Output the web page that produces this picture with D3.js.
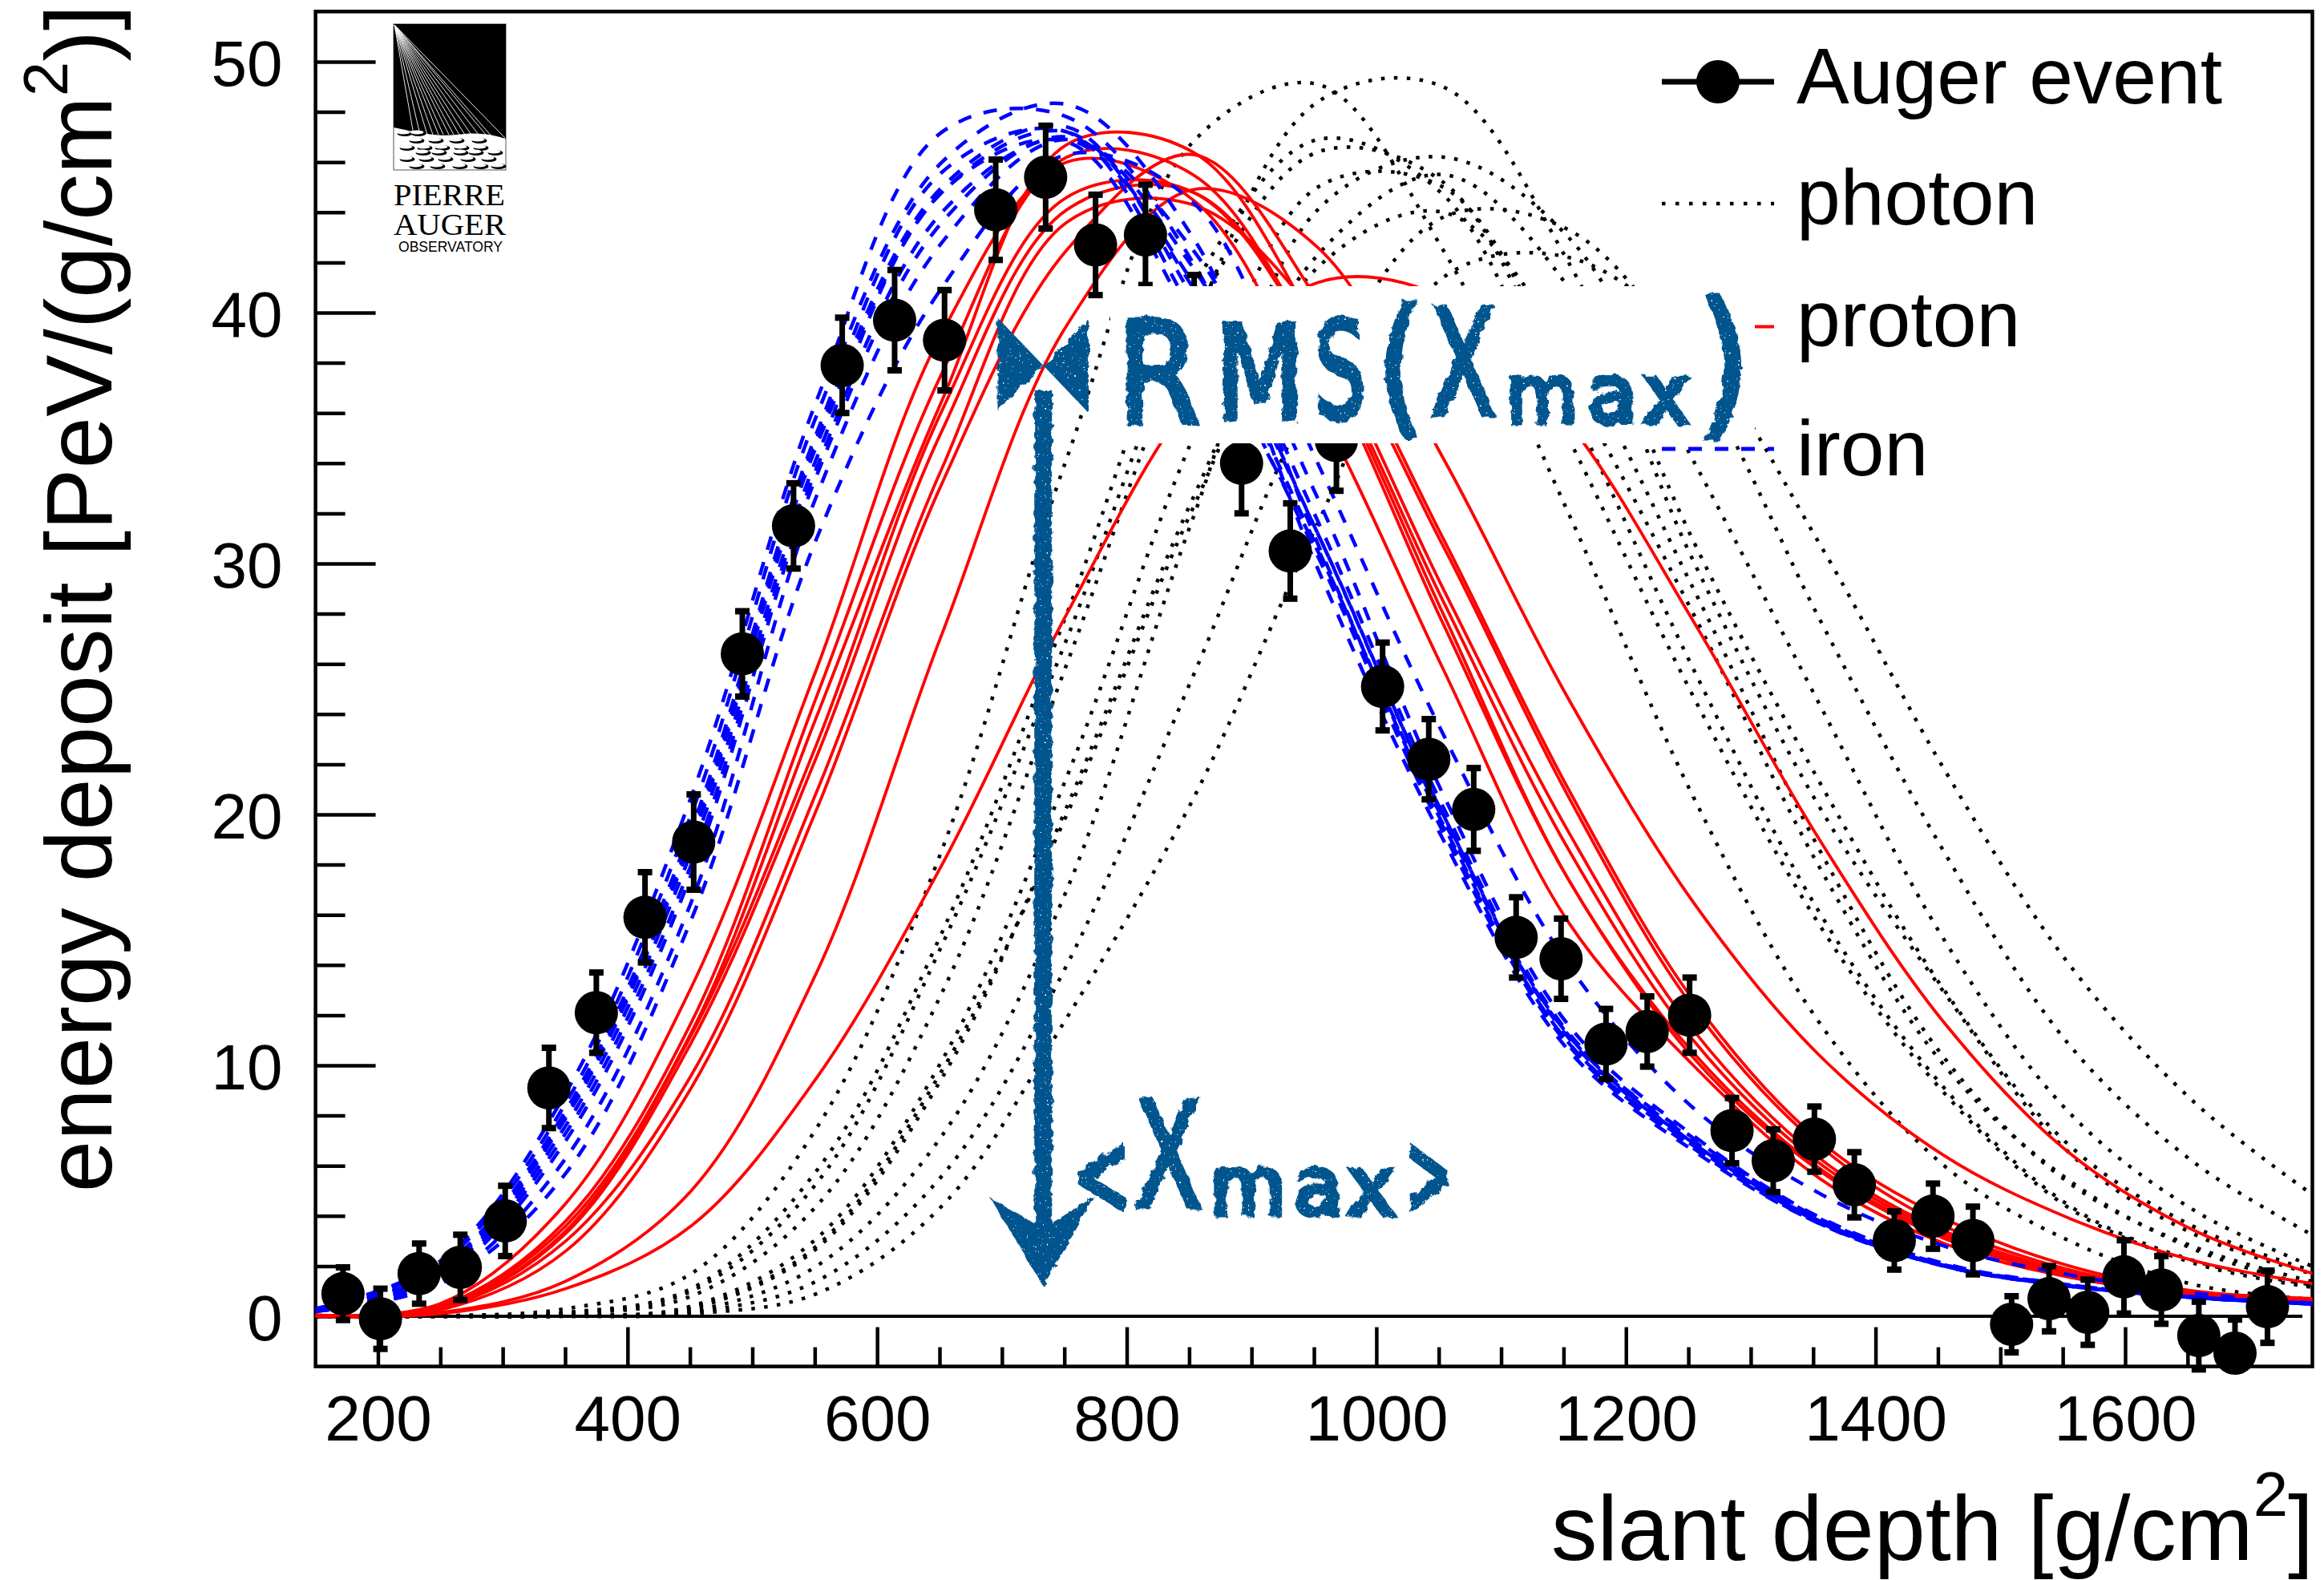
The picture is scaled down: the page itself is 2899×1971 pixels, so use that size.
<!DOCTYPE html>
<html>
<head>
<meta charset="utf-8">
<style>
  body { margin: 0; background: #fff; }
  text { font-family: "Liberation Sans", sans-serif; fill: #000; }
</style>
<script src="https://cdn.jsdelivr.net/npm/d3@7"></script>
</head>
<body>
<script>
const w = 2899
const h = 1971

const slantDepth = [172,202,233,266,302,337,375,414,453,492,533,572,614,654,695,735,775,815,854,892,931,968,1005,1042,1078,1112,1148,1184,1217,1251,1285,1318,1351,1383,1415,1446,1478,1509,1539,1570,1599,1629,1659,1688,1714]
const energyDeposit = [.9,-.1,1.7,1.95,3.8,9.1,12.1,15.9,18.9,26.4,31.5,37.9,39.7,38.9,44.1,45.4,42.7,43.1,39.5,34,30.5,34.9,25.1,22.2,20.2,15.1,14.25,10.85,11.35,12,7.4,6.2,7.06,5.24,3.02,3.99,3.02,-.32,.7,.16,1.57,1.05,-.77,-1.47,.38]
const energyError = [1.05,1.2,1.2,1.3,1.4,1.6,1.6,1.8,1.9,1.7,1.7,1.9,2,2,2,2.05,2,2,2,2,1.9,2,1.75,1.6,1.65,1.6,1.6,1.4,1.4,1.5,1.3,1.25,1.3,1.3,1.16,1.3,1.35,1.12,1.3,1.3,1.46,1.35,1.35,1.34,1.44]

// simulated showers, all read at the same depths
const curveDepth = [150,250,350.5,451,551.5,652,752,853,953,1053.5,1154,1254,1355,1455,1555.5,1656,1757]

const photon = [
  [0,.02,.3,1.7,7.5,18.6,34.2,46.8,49.1,42.5,32,20.7,11.7,6,3,1.25,.65],
  [0,.01,.15,1.1,5.8,15.3,28,41,46.9,44.7,35,24.7,15.6,8.9,4.3,2.1,1.1],
  [0,.01,.12,1,5.3,14.8,27,39.8,46.4,45.2,36.4,25.8,16.1,9.1,4.4,2.2,1.2],
  [0,0,.03,.4,3.1,10.2,21.5,35,45,45,37.3,28,17.9,10,5.4,2.65,1.1],
  [0,0,.03,.35,2.8,9.8,20,32.2,41.8,44,38.5,29,18.6,10.3,5.3,2.75,1.3],
  [0,0,.02,.3,2.7,9.5,20.3,32.6,42.3,45.5,41,30.1,20.3,12.9,6.5,3.25,1.6],
  [0,.01,.1,.8,4.4,12.9,26,39.5,48.4,49,42,30.9,21.3,13,6.8,3.55,1.7],
  [0,0,.01,.2,2,7.2,17,31.8,44.1,46.2,43,34.1,24.4,15,8.1,4.2,1.85],
  [0,0,0,.15,1.4,5.6,14,25.5,37,43.8,43.3,37.7,27.8,18.5,10.8,6.1,3.05],
  [0,0,0,.1,.9,4.4,11.9,20.6,31.6,41.4,42.2,38.7,30.8,21.8,14,8.5,4.6]
]

const proton = [
  [.05,.5,4.5,13.1,25.8,39.2,46,44.5,36.3,25.8,15.7,10,5.5,2.9,1.55,.85,.5],
  [.05,.4,3.8,11.7,24.7,37.6,46.2,45.5,38.4,27.6,17.4,10.3,5.8,3.1,1.6,.85,.52],
  [.04,.4,3.6,11.3,23.9,36.5,46.7,46.4,39.3,29,19.3,11.4,6.3,3.4,1.75,.9,.55],
  [.04,.35,3.4,11.2,22.8,36.1,44.6,44.8,38.5,28,17.4,10.5,5.9,3.2,1.65,.88,.53],
  [.03,.33,3.3,10.9,22.3,35.3,44.1,44.8,38.7,28.5,18.6,11,6.1,3.3,1.7,.88,.55],
  [.03,.3,3,9.6,20.9,33.8,43.6,44.3,39.8,30.7,20.7,12.3,6.8,3.6,1.85,.95,.6],
  [.03,.25,2.6,9.1,20.2,33.2,42.5,46.3,40.5,31,21,12.6,7,3.9,2,1,.7],
  [.01,.15,1.4,5,13.7,27.2,39.5,44.9,42.6,34.2,24.6,16.5,10.4,6.4,3.9,2.2,1.25],
  [0,.1,1.1,3.6,9.5,18,28,36.6,41.2,40.6,35.6,27.7,19,11.7,6.5,3.4,1.6]
]

const iron = [
  [.3,2.2,8.9,20.7,36.5,47.2,47.8,42,29.8,19,10.6,6.6,3.7,2,1.2,.74,.48],
  [.3,2.1,8.5,20,35.9,46,48.3,43,30.8,19.8,11.2,7.1,3.9,2.05,1.25,.76,.5],
  [.26,1.9,8.2,19.4,35.2,45.6,47.2,40,30.3,19.3,10.8,6.7,3.7,2,1.2,.74,.48],
  [.25,1.85,8,19.1,35,45,47.4,40.6,30.6,19.5,10.9,6.8,3.7,2,1.2,.74,.48],
  [.25,1.8,7.9,18.9,34.7,44.8,47.2,41,31.2,20,11.1,6.9,3.8,2.02,1.22,.75,.49],
  [.24,1.7,7.6,18.5,34.2,44.8,46.8,39.6,30.5,19.6,10.9,6.8,3.75,2,1.2,.74,.48],
  [.23,1.6,7.3,18,33.8,44,46.9,41.2,31.2,20,11.2,6.9,3.8,2.03,1.22,.75,.49],
  [.22,1.5,7,17.6,33.5,43.6,47,41.8,31.7,20.3,11.3,7,3.85,2.05,1.22,.75,.49],
  [.2,1.35,6.3,16.5,32.7,42.8,46.9,42.5,32.6,20.8,11.6,7.2,3.95,2.1,1.25,.76,.5],
  [.2,1.3,5.7,15.8,31,41,46.3,44.4,34,23.2,14,8.3,4.9,2.8,1.65,.92,.5]
]

const xMajor = [200,400,600,800,1000,1200,1400,1600]
const xMinor = d3.range(200, 1750, 50)
const yMajor = [0,10,20,30,40,50]
const yMinor = d3.range(-2, 52, 2)
const legendNames = ['Auger event','photon','proton','iron']

const x = d3.scaleLinear().domain([150, 1750]).range([393.6, 2884.5])
const y = d3.scaleLinear().domain([-2, 52]).range([1704.6, 14.4])

const svg = d3.select('body').append('svg')
    .attr('width', w)
    .attr('height', h)
    .style('display', 'block')

const defs = svg.append('defs')
defs.append('clipPath').attr('id', 'plot')
  .append('rect')
    .attr('x', x(150)).attr('y', y(52))
    .attr('width', x(1750) - x(150)).attr('height', y(-2) - y(52))

// rough chalk look for the hand written notes
const chalk = defs.append('filter').attr('id', 'chalk')
    .attr('filterUnits', 'userSpaceOnUse')
    .attr('x', 1180).attr('y', 340).attr('width', 1040).attr('height', 1290)
chalk.append('feTurbulence').attr('type', 'fractalNoise').attr('baseFrequency', .09)
    .attr('numOctaves', 3).attr('seed', 4).attr('result', 'n')
chalk.append('feDisplacementMap').attr('in', 'SourceGraphic').attr('in2', 'n')
    .attr('scale', 9).attr('result', 'd')
chalk.append('feTurbulence').attr('type', 'fractalNoise').attr('baseFrequency', .35)
    .attr('numOctaves', 2).attr('seed', 9).attr('result', 'n2')
chalk.append('feColorMatrix').attr('in', 'n2').attr('type', 'matrix')
    .attr('values', '0 0 0 0 0  0 0 0 0 0  0 0 0 0 0  0 0 0 -12 9.6').attr('result', 'holes')
chalk.append('feComposite').attr('in', 'd').attr('in2', 'holes').attr('operator', 'in')

// axes, ticks point inwards
function styleAxis(g) {
    g.select('.domain').remove()
    g.selectAll('line').attr('stroke', '#000').attr('stroke-width', 4.5)
    g.selectAll('text').attr('font-size', 80).attr('fill', '#000')
        .attr('font-family', '"Liberation Sans", sans-serif')
}

svg.append('g').attr('transform', `translate(0,${y(-2)})`)
    .call(d3.axisBottom(x).tickValues(xMinor.filter(d => !xMajor.includes(d))).tickSizeInner(-24).tickSizeOuter(0).tickFormat(''))
    .call(styleAxis)
svg.append('g').attr('transform', `translate(0,${y(-2)})`)
    .call(d3.axisBottom(x).tickValues(xMajor).tickSizeInner(-49).tickSizeOuter(0).tickPadding(36).tickFormat(d3.format('d')))
    .call(styleAxis)
svg.append('g').attr('transform', `translate(${x(150)},0)`)
    .call(d3.axisLeft(y).tickValues(yMinor.filter(d => d > -2 && !yMajor.includes(d))).tickSizeInner(-37).tickSizeOuter(0).tickFormat(''))
    .call(styleAxis)
svg.append('g').attr('transform', `translate(${x(150)},0)`)
    .call(d3.axisLeft(y).tickValues(yMajor).tickSizeInner(-75).tickSizeOuter(0).tickPadding(41).tickFormat(d3.format('d')))
    .call(styleAxis)
    .selectAll('text').attr('dy', '.37em')

svg.append('rect')
    .attr('x', x(150)).attr('y', y(52))
    .attr('width', x(1750) - x(150)).attr('height', y(-2) - y(52))
    .attr('fill', 'none').attr('stroke', '#000').attr('stroke-width', 4.5)

svg.append('line')
    .attr('x1', x(150)).attr('x2', x(1742))
    .attr('y1', y(0)).attr('y2', y(0))
    .attr('stroke', '#000').attr('stroke-width', 4)

// axis titles
const xTitle = svg.append('text').attr('x', 2886).attr('y', 1946)
    .attr('text-anchor', 'end').attr('font-size', 115)
xTitle.append('tspan').text('slant depth [g/cm')
xTitle.append('tspan').text('2').attr('font-size', 78).attr('dy', -55)
xTitle.append('tspan').text(']').attr('dy', 55)

const yTitle = svg.append('text').attr('transform', 'translate(139,6) rotate(-90)')
    .attr('text-anchor', 'end').attr('font-size', 116)
yTitle.append('tspan').text('energy deposit [PeV/(g/cm')
yTitle.append('tspan').text('2').attr('font-size', 78).attr('dy', -55)
yTitle.append('tspan').text(')]').attr('dy', 55)

// logo
const logo = svg.append('g')
logo.append('rect').attr('x', 491).attr('y', 30).attr('width', 140).attr('height', 182)
    .attr('fill', '#fff').attr('stroke', '#555').attr('stroke-width', 1)
logo.append('path')
    .attr('d', 'M491,30H631V173C610,166 590,165 570,168C545,171 520,165 491,159Z')
    .attr('fill', '#000')
const fanEnds = [516,524,533,540,547,553,560,566,573,580,588,597,606,615,630]
logo.selectAll('.fan').data(fanEnds).enter().append('line')
    .attr('x1', 492).attr('y1', 31)
    .attr('x2', d => d)
    .attr('y2', d => d < 610 ? 168 : 172)
    .attr('stroke', '#fff').attr('stroke-width', .9)
const discRows = [
  [166,[505,522]], [175,[520,544,570,598]], [184,[508,530,552,576,600]],
  [190,[528,548,575,594,618]], [198,[508,532,556,584,610]], [207,[520,546,574,600,622]]
]
discRows.forEach(function (row) {
    row[1].forEach(function (cx) {
        logo.append('ellipse').attr('cx', cx).attr('cy', row[0] + .5).attr('rx', 9.5).attr('ry', 3.6).attr('fill', '#000')
        logo.append('ellipse').attr('cx', cx - 2).attr('cy', row[0] - 1).attr('rx', 8.5).attr('ry', 2.6).attr('fill', '#fff')
    })
})
logo.append('text').text('PIERRE').attr('x', 491).attr('y', 256).attr('font-size', 38)
    .attr('textLength', 139).attr('lengthAdjust', 'spacingAndGlyphs').style('font-family', '"Liberation Serif", serif')
logo.append('text').text('AUGER').attr('x', 491).attr('y', 293).attr('font-size', 38)
    .attr('textLength', 140).attr('lengthAdjust', 'spacingAndGlyphs').style('font-family', '"Liberation Serif", serif')
logo.append('text').text('OBSERVATORY').attr('x', 497).attr('y', 314).attr('font-size', 19)
    .attr('textLength', 130).attr('lengthAdjust', 'spacingAndGlyphs').attr('fill', '#222')

// curves
const line = d3.line()
    .x((d, i) => x(curveDepth[i]))
    .y(d => y(d))
    .curve(d3.curveCatmullRom)

const plot = svg.append('g').attr('clip-path', 'url(#plot)')

plot.selectAll('.photon').data(photon).enter().append('path')
    .attr('d', line).attr('fill', 'none')
    .attr('stroke', '#000').attr('stroke-width', 4.5).attr('stroke-dasharray', '4.5 11.5')

plot.selectAll('.proton').data(proton).enter().append('path')
    .attr('d', line).attr('fill', 'none')
    .attr('stroke', '#f00').attr('stroke-width', 3.8)

// event points, error bars stop at the frame
const points = svg.append('g').selectAll('g').data(slantDepth).enter().append('g')
points.append('line')
    .attr('x1', d => x(d)).attr('x2', d => x(d))
    .attr('y1', (d, i) => y(energyDeposit[i] + energyError[i]))
    .attr('y2', (d, i) => y(Math.max(energyDeposit[i] - energyError[i], -2.15)))
    .attr('stroke', '#000').attr('stroke-width', 7)
const caps = [1, -1]
caps.forEach(function (sign) {
    points.append('line')
        .attr('x1', d => x(d) - 9).attr('x2', d => x(d) + 9)
        .attr('y1', (d, i) => y(Math.max(energyDeposit[i] + sign * energyError[i], -2.15)))
        .attr('y2', (d, i) => y(Math.max(energyDeposit[i] + sign * energyError[i], -2.15)))
        .attr('stroke', '#000').attr('stroke-width', 8)
})
points.append('circle')
    .attr('cx', d => x(d))
    .attr('cy', (d, i) => y(energyDeposit[i]))
    .attr('r', 27)
    .attr('fill', '#000')

plot.selectAll('.iron').data(iron).enter().append('path')
    .attr('d', line).attr('fill', 'none')
    .attr('stroke', '#00f').attr('stroke-width', 4.5).attr('stroke-dasharray', '17 16')

// legend
const legendY = [102, 254, 407.5, 560]
const legendBase = [128.5, 279.5, 432, 593]
const legendStyle = [
  {stroke: '#000', width: 7, dash: null},
  {stroke: '#000', width: 4.5, dash: '4.5 12.5'},
  {stroke: '#f00', width: 4, dash: null},
  {stroke: '#00f', width: 5, dash: '17 16'}
]
legendNames.forEach(function (name, i) {
    svg.append('line')
        .attr('x1', 2073).attr('x2', 2213)
        .attr('y1', legendY[i]).attr('y2', legendY[i])
        .attr('stroke', legendStyle[i].stroke)
        .attr('stroke-width', legendStyle[i].width)
        .attr('stroke-dasharray', legendStyle[i].dash)
    svg.append('text').text(name)
        .attr('x', 2241).attr('y', legendBase[i]).attr('font-size', 98.5)
})
svg.append('circle').attr('cx', 2143).attr('cy', legendY[0]).attr('r', 27).attr('fill', '#000')

// white patch under the RMS note hides whatever is behind it
svg.append('rect').attr('x', 1385).attr('y', 357).attr('width', 804).attr('height', 196).attr('fill', '#fff')

// hand written notes on top
const noteColor = '#04558f'
const meanDepth = 733
const note = svg.append('g').attr('filter', 'url(#chalk)')

note.append('line')
    .attr('x1', x(meanDepth)).attr('x2', x(meanDepth))
    .attr('y1', y(36.9)).attr('y2', y(3))
    .attr('stroke', noteColor).attr('stroke-width', 22)
note.append('path')
    .attr('d', `M${x(meanDepth - 42)},${y(4.7)}L${x(meanDepth)},${y(3.5)}L${x(meanDepth + 42)},${y(4.8)}L${x(meanDepth)},${y(1.2)}Z`)
    .attr('fill', noteColor)
note.append('path')
    .attr('d', `M${x(meanDepth - 36.5)},${y(39.8)}L${x(meanDepth)},${y(37.9)}L${x(meanDepth + 36.5)},${y(39.7)}V${y(36)}L${x(meanDepth)},${y(37.9)}L${x(meanDepth - 36.5)},${y(36.1)}Z`)
    .attr('fill', noteColor)

const noteLetters = [
  ['R',1394,1497,527,177], ['M',1516,1627,523,162], ['S',1640,1704,520,165], ['(',1718,1776,519,186],
  ['X',1784,1866,517,181], ['m',1879,1968,527,100], ['a',1981,2042,527,100], ['x',2051,2106,527,100],
  [')',2116,2184,521,199],
  ['<',1338,1410,1515,147], ['X',1416,1499,1505,181], ['m',1510,1604,1515,100], ['a',1613,1675,1515,100],
  ['x',1682,1740,1515,100], ['>',1753,1812,1515,147]
]
note.selectAll('text').data(noteLetters).enter().append('text')
    .text(d => d[0])
    .attr('x', d => d[1])
    .attr('y', d => d[3])
    .attr('font-size', d => d[4])
    .attr('textLength', d => d[2] - d[1])
    .attr('lengthAdjust', 'spacingAndGlyphs')
    .style('font-family', '"DejaVu Sans", sans-serif')
    .style('fill', noteColor)
    .style('stroke', noteColor)
    .style('stroke-width', 7)
</script>
</body>
</html>
